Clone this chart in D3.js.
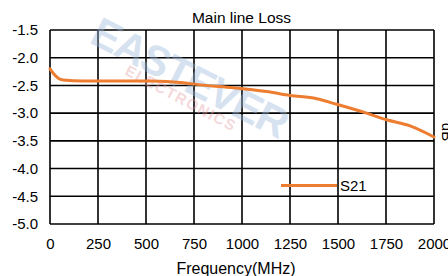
<!DOCTYPE html>
<html><head><meta charset="utf-8">
<script src="https://cdn.jsdelivr.net/npm/d3@7/dist/d3.min.js"></script>
<style>html,body{margin:0;padding:0;background:#fff;overflow:hidden}</style>
</head><body><svg id="c" width="448" height="276"></svg>
<script>
const freqs = [0, 17, 43, 69, 173, 260, 521, 694, 781, 955, 1128, 1250, 1389, 1493, 1649, 1753, 1875, 2000];
const s21   = [-2.20, -2.28, -2.37, -2.40, -2.42, -2.42, -2.42, -2.45, -2.49, -2.54, -2.61, -2.68, -2.74, -2.84, -3.00, -3.12, -3.23, -3.43];
const xTicks = [0, 250, 500, 750, 1000, 1250, 1500, 1750, 2000];
const yTicks = [-1.5, -2.0, -2.5, -3.0, -3.5, -4.0, -4.5, -5.0];
const seriesName = "S21";
const title = "Main line Loss";
const xTitle = "Frequency(MHz)";
const yTitle = "dB";

const svg = d3.select("#c");
const font = "'Liberation Sans', Arial, sans-serif";
const L = 50, R = 434, T = 30, B = 224;
const x = d3.scaleLinear().domain([0, 2000]).range([L, R]);
const y = d3.scaleLinear().domain([-5, -1.5]).range([B, T]);
const orange = "#ED7D31";

// grid
const g = svg.append("g");
g.selectAll("line.v").data(xTicks).enter().append("line")
  .attr("x1", d => x(d)).attr("x2", d => x(d)).attr("y1", T).attr("y2", B)
  .attr("stroke", "#000").attr("stroke-width", 1.6);
g.selectAll("line.h").data(yTicks).enter().append("line")
  .attr("x1", L).attr("x2", R).attr("y1", d => y(d)).attr("y2", d => y(d))
  .attr("stroke", "#000").attr("stroke-width", 1.6);

// axes labels via d3 axes
const xa = svg.append("g").attr("transform", `translate(0,${B})`)
  .call(d3.axisBottom(x).tickValues(xTicks).tickSize(0).tickPadding(14).tickFormat(d3.format("d")));
xa.select(".domain").remove();
xa.selectAll("text").attr("font-family", font).attr("font-size", 15).attr("fill", "#000");

const ya = svg.append("g").attr("transform", `translate(${L},0)`)
  .call(d3.axisLeft(y).tickValues(yTicks).tickSize(0).tickPadding(12).tickFormat(d3.format(".1f")));
ya.select(".domain").remove();
ya.selectAll("text").attr("font-family", font).attr("font-size", 15).attr("fill", "#000")
  .text(d => d3.format(".1f")(d).replace("−", "-"));

// watermark
const wm = svg.append("g").attr("opacity", 0.4);
wm.append("text").attr("transform", "translate(88,42) rotate(27)")
  .attr("font-family", font).attr("font-size", 42).attr("font-weight", "bold")
  .attr("fill", "#9db8dc").attr("textLength", 215).text("EASTEVER");
wm.append("text").attr("transform", "translate(124,74) rotate(28)")
  .attr("font-family", font).attr("font-size", 15).attr("font-weight", "bold")
  .attr("fill", "#e6a0a8").attr("textLength", 122).text("ELECTRONICS");

// series
svg.append("path").datum(freqs.map((f, i) => [f, s21[i]]))
  .attr("fill", "none").attr("stroke", orange).attr("stroke-width", 3)
  .attr("stroke-linejoin", "round").attr("stroke-linecap", "round")
  .attr("d", d3.line().x(d => x(d[0])).y(d => y(d[1])).curve(d3.curveMonotoneX));

// legend
svg.append("line").attr("x1", 281).attr("x2", 337).attr("y1", 185.5).attr("y2", 185.5)
  .attr("stroke", orange).attr("stroke-width", 3);
svg.append("text").attr("x", 340).attr("y", 191).attr("font-family", font).attr("font-size", 15)
  .attr("fill", "#000").text(seriesName);

// titles
svg.append("text").attr("x", 241.5).attr("y", 22.5).attr("text-anchor", "middle")
  .attr("font-family", font).attr("font-size", 15.5).attr("fill", "#000").text(title);
svg.append("text").attr("x", 236).attr("y", 273.5).attr("text-anchor", "middle")
  .attr("font-family", font).attr("font-size", 16).attr("fill", "#000").text(xTitle);
svg.append("text").attr("transform", "translate(442,132) rotate(90)").attr("text-anchor", "middle")
  .attr("font-family", font).attr("font-size", 15).attr("fill", "#000").text(yTitle);
</script></body></html>
